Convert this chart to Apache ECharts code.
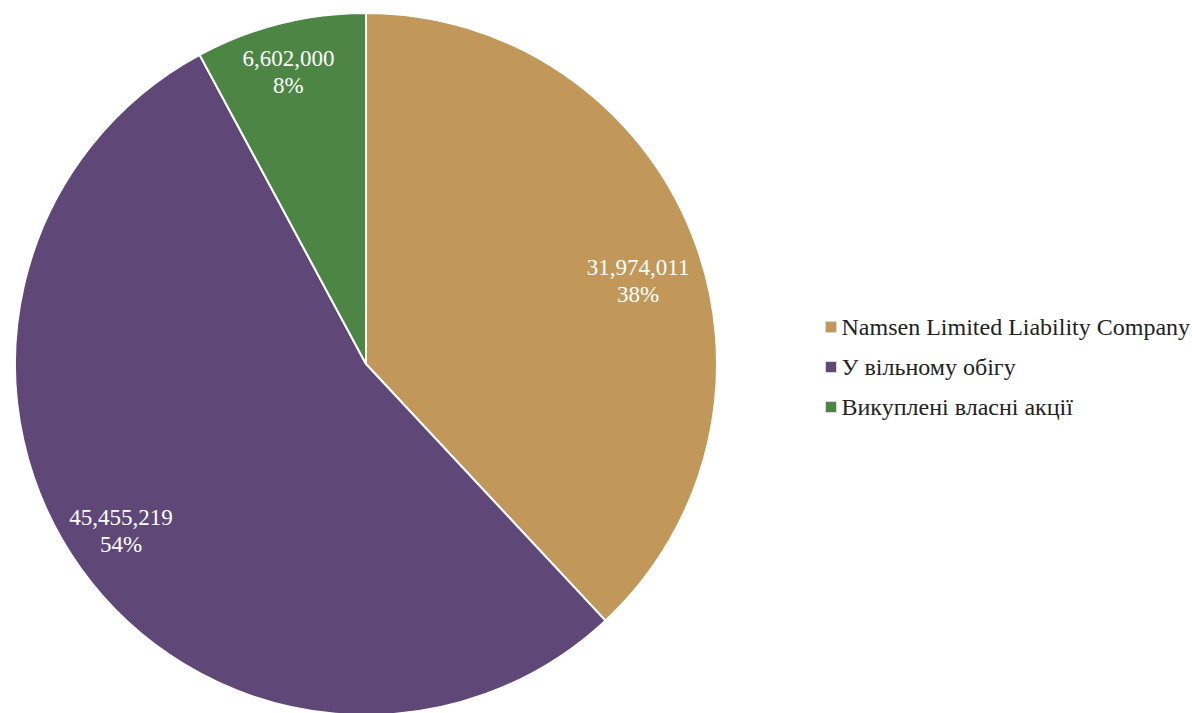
<!DOCTYPE html>
<html lang="uk">
<head>
  <meta charset="UTF-8">
  <title>Структура акціонерів</title>
  <script src="https://cdn.jsdelivr.net/npm/echarts@6.0.0/dist/echarts.min.js"></script>
  <style>
    html, body { margin: 0; padding: 0; background: #fff; }
    #chart { width: 1192px; height: 713px; }
  </style>
</head>
<body>
  <div id="chart"></div>
  <script>
    // дані
    const names = ['Namsen Limited Liability Company', 'У вільному обігу', 'Викуплені власні акції'];
    const values = [31974011, 45455219, 6602000];
    const colors = ['#C19859', '#5F4878', '#4C8544'];
    // зсув підписів від стандартної позиції "inside"
    const labelOffsets = [[106, -18], [-100, 63], [-34, -119]];

    const chart = echarts.init(document.getElementById('chart'), null, { renderer: 'svg' });

    const total = values.reduce((a, b) => a + b, 0);
    const fmt = v => v.toLocaleString('en-US');

    const option = {
      animation: false,
      legend: {
        orient: 'vertical',
        left: 820,
        top: 310,
        icon: 'rect',
        itemWidth: 11,
        itemHeight: 11,
        itemGap: 16,
        itemStyle: { borderColor: '#d9d9d9', borderWidth: 1 },
        textStyle: {
          fontFamily: 'Liberation Serif',
          fontSize: 24,
          color: '#222',
          lineHeight: 24
        },
        data: names
      },
      series: [{
        type: 'pie',
        center: [366, 364],
        radius: [0, 351],
        startAngle: 90,
        clockwise: true,
        itemStyle: { borderColor: '#fff', borderWidth: 2 },
        label: {
          position: 'inside',
          fontFamily: 'Liberation Serif',
          fontSize: 23,
          lineHeight: 27,
          color: '#fff',
          formatter: p => fmt(p.value) + '\n' + Math.round(p.value / total * 100) + '%'
        },
        labelLine: { show: false },
        emphasis: { disabled: true },
        data: names.map((n, i) => ({
          name: n,
          value: values[i],
          itemStyle: { color: colors[i] },
          label: { offset: labelOffsets[i] }
        }))
      }]
    };
    option && chart.setOption(option);
  </script>
</body>
</html>
